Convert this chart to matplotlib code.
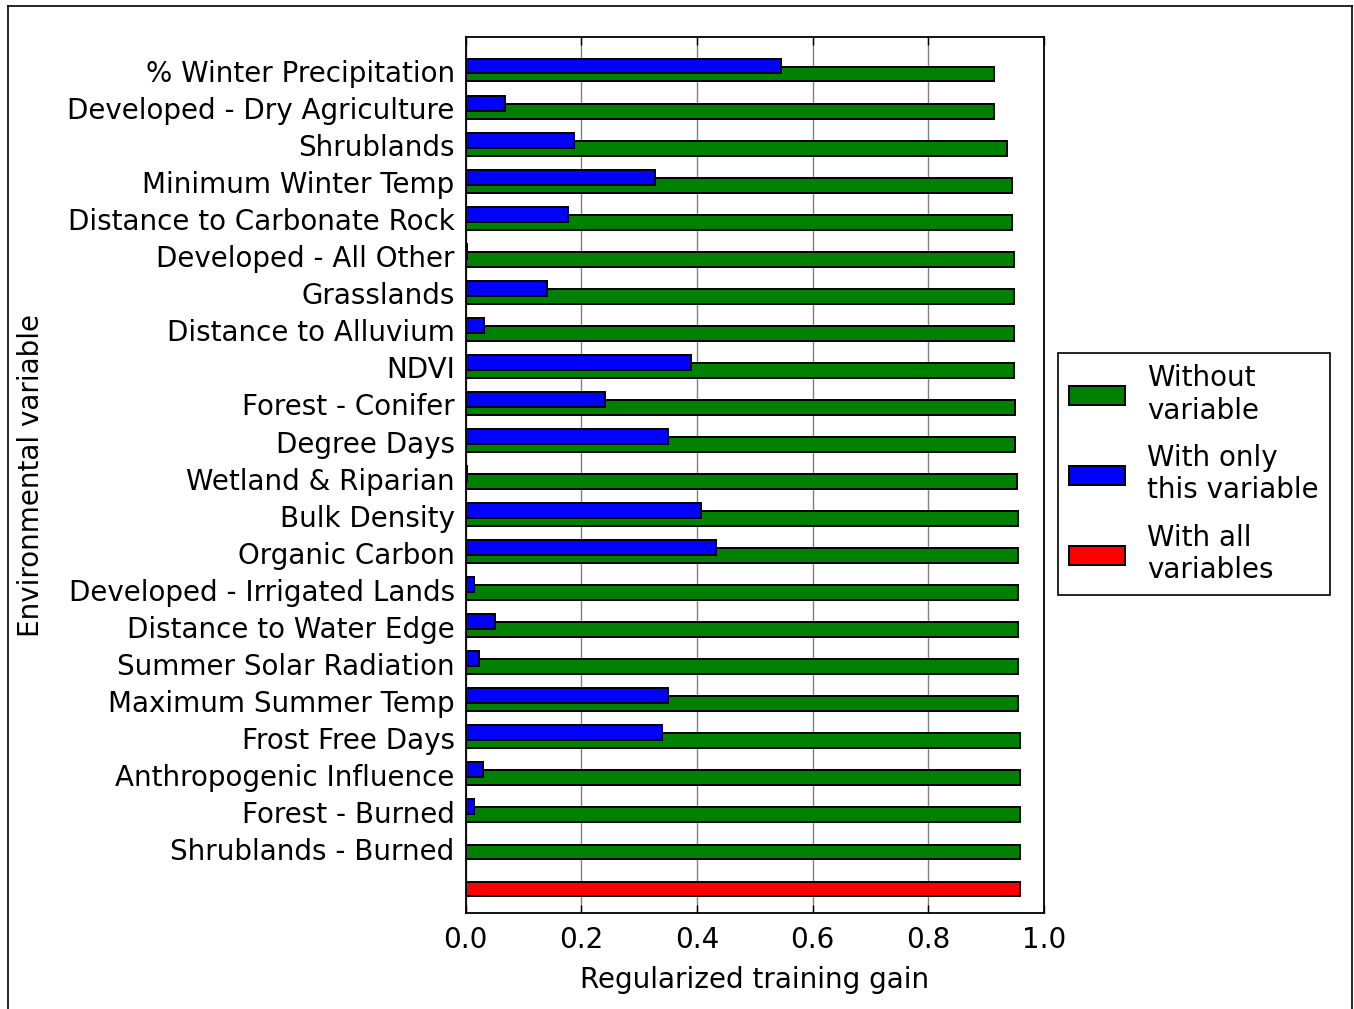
import numpy as np
import matplotlib.pyplot as plt
from matplotlib.lines import Line2D

# variables listed top to bottom as in the jackknife chart
variables = [
    "% Winter Precipitation", "Developed - Dry Agriculture", "Shrublands",
    "Minimum Winter Temp", "Distance to Carbonate Rock", "Developed - All Other",
    "Grasslands", "Distance to Alluvium", "NDVI", "Forest - Conifer",
    "Degree Days", "Wetland & Riparian", "Bulk Density", "Organic Carbon",
    "Developed - Irrigated Lands", "Distance to Water Edge",
    "Summer Solar Radiation", "Maximum Summer Temp", "Frost Free Days",
    "Anthropogenic Influence", "Forest - Burned", "Shrublands - Burned",
]
without_var = [0.913, 0.913, 0.936, 0.945, 0.945, 0.948, 0.948, 0.948,
               0.948, 0.950, 0.950, 0.954, 0.956, 0.956, 0.956, 0.956,
               0.956, 0.956, 0.959, 0.959, 0.959, 0.959]
only_var = [0.546, 0.067, 0.187, 0.328, 0.177, 0.002, 0.140, 0.032,
            0.389, 0.241, 0.349, 0.002, 0.407, 0.433, 0.015, 0.050,
            0.023, 0.349, 0.340, 0.029, 0.015, 0.0]
all_vars = 0.959

plt.rcParams['font.family'] = ['DejaVu Sans']
plt.rcParams['font.size'] = 20

fig = plt.figure(figsize=(13.54, 10.09), dpi=100)
ax = fig.add_axes([0.344, 0.0951, 0.427, 0.8682])

n = len(variables)
rows = np.arange(n, 0, -1)  # top variable gets the highest row

ax.barh(rows, without_var, height=0.4, color="green", edgecolor="black",
        linewidth=1.4, label="Without\nvariable", zorder=2)
ax.barh(rows + 0.216, only_var, height=0.4, color="blue", edgecolor="black",
        linewidth=1.4, label="With only\nthis variable", zorder=3)
ax.barh([0], [all_vars], height=0.4, color="red", edgecolor="black",
        linewidth=1.4, label="With all\nvariables", zorder=2)

ax.set_yticks(rows + 0.08)
ax.set_yticklabels(variables)
ax.set_ylim(-0.65, n + 1)
ax.set_xlim(0, 1.0)
ax.set_xticks(np.arange(0, 1.01, 0.2))
ax.set_xticklabels(["0.0", "0.2", "0.4", "0.6", "0.8", "1.0"])
ax.tick_params(direction="in", top=True, right=True, length=6, width=1,
               colors="black", labelsize=20)
ax.tick_params(axis="x", pad=9)
ax.tick_params(axis="y", length=0, pad=8)
ax.grid(True, axis="x", color="gray", linewidth=1, zorder=0)
ax.set_axisbelow(True)
for s in ax.spines.values():
    s.set_linewidth(1.3)

ax.set_xlabel("Regularized training gain", fontsize=20, labelpad=9)
ax.set_ylabel("Environmental variable", fontsize=20, labelpad=16)

leg = fig.legend(loc="upper left", bbox_to_anchor=(1058 / 1354, 1 - 353 / 1009),
                 borderaxespad=0, fancybox=False, framealpha=1,
                 edgecolor="black", handlelength=2.0, handleheight=0.7,
                 fontsize=20, labelspacing=0.7, borderpad=0.4,
                 handletextpad=0.8)
leg.get_frame().set_linewidth(1.2)

# thin border around the whole figure
for xs, ys in [([8 / 1354, 8 / 1354], [0, 1 - 6 / 1009]),
               ([8 / 1354, 1352 / 1354], [1 - 6 / 1009, 1 - 6 / 1009]),
               ([1352 / 1354, 1352 / 1354], [0, 1 - 6 / 1009])]:
    fig.add_artist(Line2D(xs, ys, color="black", linewidth=1.2,
                          transform=fig.transFigure))

plt.savefig("out.png", dpi=100)
